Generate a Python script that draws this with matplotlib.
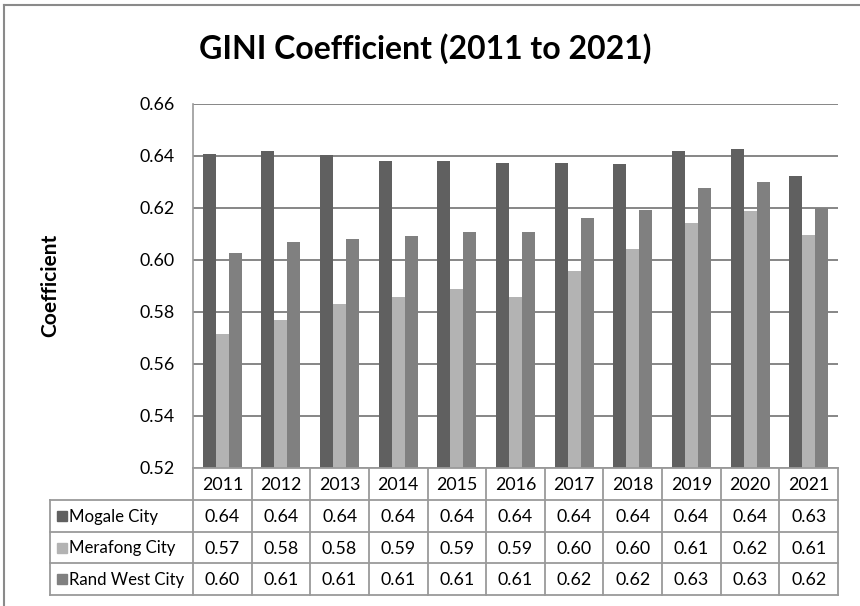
"""GINI coefficient per municipality, 2011-2021, Excel-style bar chart with a data table underneath."""
import numpy as np
import matplotlib
matplotlib.use("Agg")
import matplotlib.pyplot as plt
from matplotlib.patches import Rectangle

plt.rcParams["font.family"] = ["Lato", "DejaVu Sans"]

YEARS = ["2011", "2012", "2013", "2014", "2015", "2016", "2017", "2018", "2019", "2020", "2021"]
SERIES = ["Mogale City", "Merafong City", "Rand West City"]
MOGALE = [0.6409, 0.6418, 0.6403, 0.6382, 0.6381, 0.6373, 0.6375, 0.6369, 0.6419, 0.6427, 0.6323]
MERAFONG = [0.5714, 0.5768, 0.5832, 0.5858, 0.5888, 0.5859, 0.5958, 0.6042, 0.6143, 0.6188, 0.6096]
RAND_WEST = [0.6028, 0.6069, 0.6082, 0.6091, 0.6109, 0.6109, 0.6163, 0.6193, 0.6276, 0.6299, 0.6201]
COLORS = ["#606060", "#b3b3b3", "#808080"]
Y_TICKS = [0.52, 0.54, 0.56, 0.58, 0.60, 0.62, 0.64, 0.66]

W, H = 860, 606
FS = 12.8
fig = plt.figure(figsize=(W / 100, H / 100), dpi=100)

# plot area in pixels
PL, PR, PT, PB = 193, 838, 104, 468
ax = fig.add_axes([PL / W, 1 - PB / H, (PR - PL) / W, (PB - PT) / H])

x = np.arange(len(YEARS))
bw = 0.222
for i, (vals, col) in enumerate(zip([MOGALE, MERAFONG, RAND_WEST], COLORS)):
    ax.bar(x + (i - 1) * bw, vals, width=bw, color=col, edgecolor="none", zorder=3)

ax.set_xlim(-0.5, len(YEARS) - 0.5)
ax.set_ylim(0.52, 0.66)
ax.set_yticks(Y_TICKS)
ax.set_yticklabels([f"{t:.2f}" for t in Y_TICKS], fontsize=FS)
ax.tick_params(axis="y", length=0, pad=13)
ax.set_xticks([])
ax.yaxis.grid(True, color="#868686", lw=1.4, zorder=0)
for s in ["top", "right", "bottom"]:
    ax.spines[s].set_visible(False)
ax.spines["left"].set_color("#9a9a9a")
ax.spines["left"].set_linewidth(1.2)

fig.text(425 / W, 1 - 49 / H, "GINI Coefficient (2011 to 2021)", ha="center", va="center",
         fontsize=23, fontweight="bold")
fig.text(50 / W, 1 - 285 / H, "Coefficient", rotation=90, ha="center", va="center",
         fontsize=15, fontweight="bold")

# overlay in pixel coordinates for the data table and the outer frame
ov = fig.add_axes([0, 0, 1, 1], zorder=5)
ov.set_xlim(0, W); ov.set_ylim(H, 0); ov.axis("off")
ov.patch.set_alpha(0)

lc, lw = "#9a9a9a", 1.3
cw = (PR - PL) / len(YEARS)
rows = [PB, 500, 532, 563, 595]
LX = 50
# header row (years) hangs off the bottom of the plot area
ov.plot([PL, PR], [rows[0], rows[0]], color=lc, lw=lw)
for r in rows[1:]:
    ov.plot([LX, PR], [r, r], color=lc, lw=lw)
for k in range(len(YEARS) + 1):
    ov.plot([PL + k * cw] * 2, [rows[0], rows[-1]], color=lc, lw=lw)
ov.plot([LX, LX], [rows[1], rows[-1]], color=lc, lw=lw)

for k, yr in enumerate(YEARS):
    ov.text(PL + (k + 0.5) * cw, (rows[0] + rows[1]) / 2 + 1, yr, ha="center", va="center", fontsize=FS)

for j, (name, vals, col) in enumerate(zip(SERIES, [MOGALE, MERAFONG, RAND_WEST], COLORS)):
    yc = (rows[j + 1] + rows[j + 2]) / 2
    ov.add_patch(Rectangle((57, yc - 5), 10, 10, color=col))
    ov.text(69, yc + 1, name, ha="left", va="center", fontsize=12.1)
    for k, v in enumerate(vals):
        ov.text(PL + (k + 0.5) * cw, yc + 1, f"{v:.2f}", ha="center", va="center", fontsize=FS)

# chart frame
ov.plot([3.5, W], [4.5, 4.5], color="#8a8a8a", lw=1.5)
ov.plot([3.5, 3.5], [4.5, H], color="#8a8a8a", lw=1.5)

fig.savefig("out.png", dpi=100)
